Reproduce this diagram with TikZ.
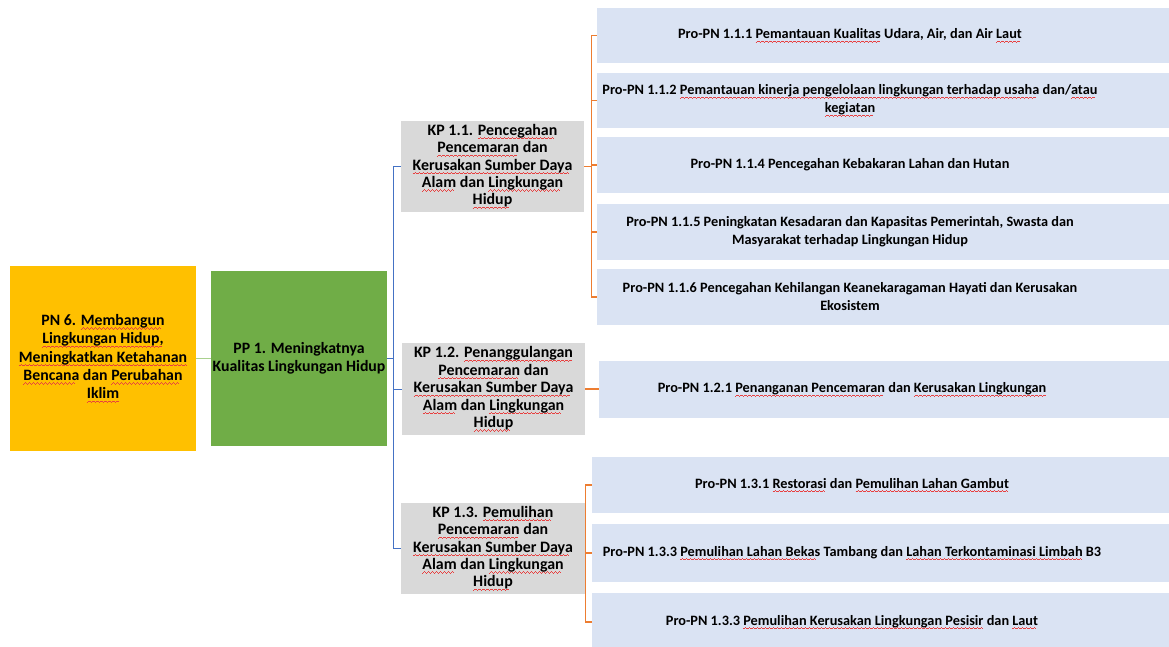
\documentclass[tikz,border=0pt]{standalone}
\usepackage{fontspec}
\setmainfont{Carlito}
\definecolor{pnfill}{HTML}{FFC000}
\definecolor{ppfill}{HTML}{70AD47}
\definecolor{kpfill}{HTML}{D9D9D9}
\definecolor{profill}{HTML}{DAE3F3}
\definecolor{blueline}{HTML}{4472C4}
\definecolor{orangeline}{HTML}{ED7D31}
\definecolor{greenline}{HTML}{A9D18E}
\definecolor{spell}{HTML}{E84040}
\newcommand\wavecell{\hbox{\rule[-3.9pt]{1pt}{0.75pt}\rule[-3.3pt]{1pt}{0.75pt}\rule[-2.7pt]{1pt}{0.75pt}\rule[-3.3pt]{1pt}{0.75pt}}}
\newcommand\sq[1]{\leavevmode\setbox0\hbox{#1}\rlap{\hbox to\wd0{\color{spell}\leaders\wavecell\hfil}}\box0\relax}
\begin{document}
\begin{tikzpicture}[x=1pt,y=-1pt,
  box/.style={draw=none, inner sep=0pt, align=center},
  bigtext/.style={font=\fontsize{15.8}{18.3}\selectfont\bfseries},
  kptext/.style={font=\fontsize{15.9}{17.4}\selectfont\bfseries},
  protext/.style={inner sep=0pt, align=center, font=\fontsize{14.3}{18}\selectfont\bfseries},
  probox/.style={box, fill=profill, minimum width=572, minimum height=56},
  kpbox/.style={box, kptext, fill=kpfill, minimum width=183, minimum height=91},
  bl/.style={draw=blueline, line width=1pt},
  ol/.style={draw=orangeline, line width=1.1pt},
  gl/.style={draw=greenline, line width=1pt}]
\clip (0,0) rectangle (1169,646);
\fill[white] (0,0) rectangle (1169,646);
% main boxes
\node[box, bigtext, fill=pnfill, minimum width=186, minimum height=185] (pn) at (103,358.5)
  {PN 6. \sq{Membangun}\\ \sq{Lingkungan Hidup,}\\ \sq{Meningkatkan Ketahanan}\\ \sq{Bencana} dan \sq{Perubahan}\\ \sq{Iklim}};
\node[box, bigtext, fill=ppfill, minimum width=176, minimum height=175] (pp) at (299,358.5)
  {PP 1. Meningkatnya\\ Kualitas Lingkungan Hidup};
\node[kpbox] (kp1) at (492.5,166.5)
  {KP 1.1. \sq{Pencegahan}\\ \sq{Pencemaran} dan\\ \sq{Kerusakan Sumber Daya}\\ \sq{Alam} dan \sq{Lingkungan}\\ \sq{Hidup}};
\node[kpbox, minimum height=92] (kp2) at (493.5,389)
  {KP 1.2. \sq{Penanggulangan}\\ \sq{Pencemaran} dan\\ \sq{Kerusakan Sumber Daya}\\ \sq{Alam} dan \sq{Lingkungan}\\ \sq{Hidup}};
\node[kpbox, minimum width=184] (kp3) at (493,548.5)
  {KP 1.3. \sq{Pemulihan}\\ \sq{Pencemaran} dan\\ \sq{Kerusakan Sumber Daya}\\ \sq{Alam} dan \sq{Lingkungan}\\ \sq{Hidup}};
% program boxes
\node[probox, minimum height=55] (p111) at (883,35.5) {};
\node[probox, minimum height=55] (p112) at (883,100.5) {};
\node[probox] (p114) at (883,165) {};
\node[probox] (p115) at (883,232) {};
\node[probox] (p116) at (883,297) {};
\node[probox, minimum width=570, minimum height=57] (p121) at (884,389.5) {};
\node[probox, minimum width=577] (p131) at (880.5,485) {};
\node[probox, minimum width=577, minimum height=58] (p132) at (880.5,553) {};
\node[probox, minimum width=577, minimum height=58] (p133) at (880.5,622) {};
% program texts
\node[protext] (t111) at (850,35.5) {Pro-PN 1.1.1 \sq{Pemantauan Kualitas} Udara, Air, dan Air \sq{Laut}};
\node[protext] (t112) at (850,100.5) {Pro-PN 1.1.2 \sq{Pemantauan kinerja pengelolaan lingkungan terhadap usaha} dan/\sq{atau}\\ \sq{kegiatan}};
\node[protext] (t114) at (850,165) {Pro-PN 1.1.4 Pencegahan Kebakaran Lahan dan Hutan};
\node[protext] (t115) at (850,232) {Pro-PN 1.1.5 Peningkatan Kesadaran dan Kapasitas Pemerintah, Swasta dan\\ Masyarakat terhadap Lingkungan Hidup};
\node[protext] (t116) at (850,297) {Pro-PN 1.1.6 Pencegahan Kehilangan Keanekaragaman Hayati dan Kerusakan\\ Ekosistem};
\node[protext] (t121) at (852,389.5) {Pro-PN 1.2.1 \sq{Penanganan Pencemaran} dan \sq{Kerusakan Lingkungan}};
\node[protext] (t131) at (852,485) {Pro-PN 1.3.1 \sq{Restorasi} dan \sq{Pemulihan Lahan Gambut}};
\node[protext] (t132) at (852,553) {Pro-PN 1.3.3 \sq{Pemulihan Lahan Bekas} Tambang dan \sq{Lahan Terkontaminasi Limbah} B3};
\node[protext] (t133) at (852,622) {Pro-PN 1.3.3 \sq{Pemulihan Kerusakan Lingkungan Pesisir} dan \sq{Laut}};
% connectors
\coordinate (bx) at (393.5,0);
\coordinate (ox1) at (591.5,0);
\coordinate (ox3) at (585.5,0);
\draw[gl] (pn.east) -- (pp.west);
\draw[bl] (pp.east) -- (pp.east -| bx);
\draw[bl] (kp1.west) -- (kp1.west -| bx) -- (kp3.west -| bx) -- (kp3.west);
\draw[bl] (kp2.west -| bx) -- (kp2.west);
\draw[ol] (p111.west) -- (p111.west -| ox1) -- (p116.west -| ox1) -- (p116.west);
\draw[ol] (p112.west -| ox1) -- (p112.west);
\draw[ol] (p114.west -| ox1) -- (p114.west);
\draw[ol] (p115.west -| ox1) -- (p115.west);
\draw[ol] (kp1.east) -- (kp1.east -| ox1);
\draw[ol] (kp2.east) -- (kp2.east -| p121.west);
\draw[ol] (p131.west) -- (p131.west -| ox3) -- (p133.west -| ox3) -- (p133.west);
\draw[ol] (p132.west -| ox3) -- (p132.west);
\draw[ol] (kp3.east) -- (kp3.east -| ox3);
\end{tikzpicture}
\end{document}
